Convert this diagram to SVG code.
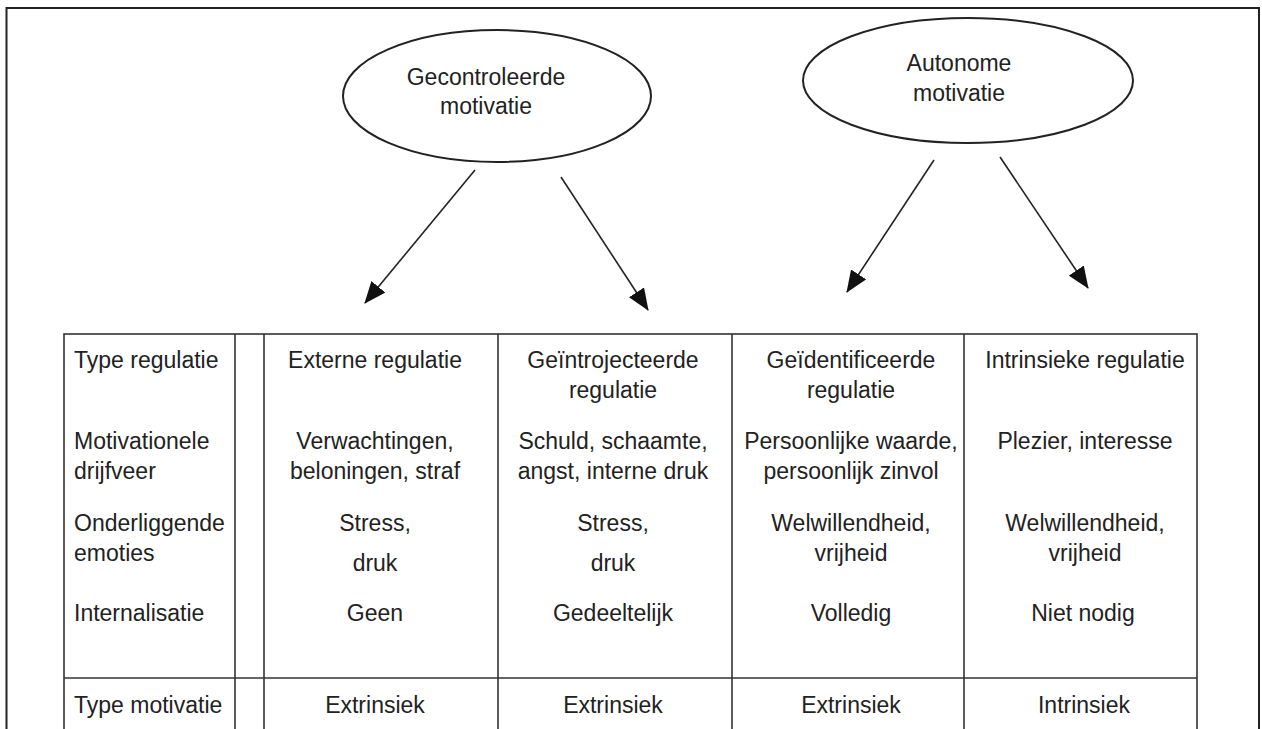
<svg xmlns="http://www.w3.org/2000/svg" width="1262" height="729" viewBox="0 0 1262 729">
  <style>
    text { font-family: "Liberation Sans", Arial, sans-serif; font-size: 23px; fill: #222; }
    .c { text-anchor: middle; }
    .node { fill: #fff; stroke: #222; stroke-width: 2; }
    .frame { fill: none; stroke: #222; stroke-width: 2; }
    .grid { fill: none; stroke: #333; stroke-width: 1.6; }
    .conn { stroke: #222; stroke-width: 1.6; fill: none; marker-end: url(#arrow); }
  </style>
  <defs>
    <marker id="arrow" markerUnits="userSpaceOnUse" markerWidth="22" markerHeight="18" viewBox="0 0 22 18" refX="21" refY="9" orient="auto">
      <path d="M0,0 L22,9 L0,18 Z" fill="#111"/>
    </marker>
  </defs>
  <rect x="0" y="0" width="1262" height="729" fill="#fff"/>
  <path class="frame" d="M6.5,740 V8 H1259 V740"/>

  <g id="node-gecontroleerde">
    <ellipse class="node" cx="497" cy="96" rx="154" ry="66"/>
    <text class="c" x="486" y="85">Gecontroleerde</text>
    <text class="c" x="486" y="114">motivatie</text>
  </g>
  <g id="node-autonome">
    <ellipse class="node" cx="968" cy="80.5" rx="165" ry="62.5"/>
    <text class="c" x="959" y="71">Autonome</text>
    <text class="c" x="959" y="101">motivatie</text>
  </g>

  <g id="connectors">
    <line class="conn" x1="475" y1="170" x2="365" y2="303"/>
    <line class="conn" x1="561" y1="177" x2="648" y2="310"/>
    <line class="conn" x1="934" y1="160" x2="847" y2="292"/>
    <line class="conn" x1="1000" y1="157" x2="1088" y2="288"/>
  </g>

  <g id="table">
    <rect class="grid" x="64" y="334" width="1133" height="420"/>
    <line class="grid" x1="235" y1="334" x2="235" y2="740"/>
    <line class="grid" x1="264" y1="334" x2="264" y2="740"/>
    <line class="grid" x1="498" y1="334" x2="498" y2="740"/>
    <line class="grid" x1="732" y1="334" x2="732" y2="740"/>
    <line class="grid" x1="964" y1="334" x2="964" y2="740"/>
    <line class="grid" x1="64" y1="678" x2="1197" y2="678"/>
  </g>

  <g id="row-labels">
    <text x="74" y="368">Type regulatie</text>
    <text x="74" y="449">Motivationele</text>
    <text x="74" y="479">drijfveer</text>
    <text x="74" y="531">Onderliggende</text>
    <text x="74" y="561">emoties</text>
    <text x="74" y="621">Internalisatie</text>
    <text x="74" y="713">Type motivatie</text>
  </g>

  <g id="col-externe">
    <text class="c" x="375" y="368">Externe regulatie</text>
    <text class="c" x="375" y="449">Verwachtingen,</text>
    <text class="c" x="375" y="479">beloningen, straf</text>
    <text class="c" x="375" y="531">Stress,</text>
    <text class="c" x="375" y="571">druk</text>
    <text class="c" x="375" y="621">Geen</text>
    <text class="c" x="375" y="713">Extrinsiek</text>
  </g>

  <g id="col-geintrojecteerde">
    <text class="c" x="613" y="368">Geïntrojecteerde</text>
    <text class="c" x="613" y="398">regulatie</text>
    <text class="c" x="613" y="449">Schuld, schaamte,</text>
    <text class="c" x="613" y="479">angst, interne druk</text>
    <text class="c" x="613" y="531">Stress,</text>
    <text class="c" x="613" y="571">druk</text>
    <text class="c" x="613" y="621">Gedeeltelijk</text>
    <text class="c" x="613" y="713">Extrinsiek</text>
  </g>

  <g id="col-geidentificeerde">
    <text class="c" x="851" y="368">Geïdentificeerde</text>
    <text class="c" x="851" y="398">regulatie</text>
    <text class="c" x="851" y="449">Persoonlijke waarde,</text>
    <text class="c" x="851" y="479">persoonlijk zinvol</text>
    <text class="c" x="851" y="531">Welwillendheid,</text>
    <text class="c" x="851" y="561">vrijheid</text>
    <text class="c" x="851" y="621">Volledig</text>
    <text class="c" x="851" y="713">Extrinsiek</text>
  </g>

  <g id="col-intrinsieke">
    <text class="c" x="1085" y="368">Intrinsieke regulatie</text>
    <text class="c" x="1085" y="449">Plezier, interesse</text>
    <text class="c" x="1085" y="531">Welwillendheid,</text>
    <text class="c" x="1085" y="561">vrijheid</text>
    <text class="c" x="1083" y="621">Niet nodig</text>
    <text class="c" x="1084" y="713">Intrinsiek</text>
  </g>
</svg>
